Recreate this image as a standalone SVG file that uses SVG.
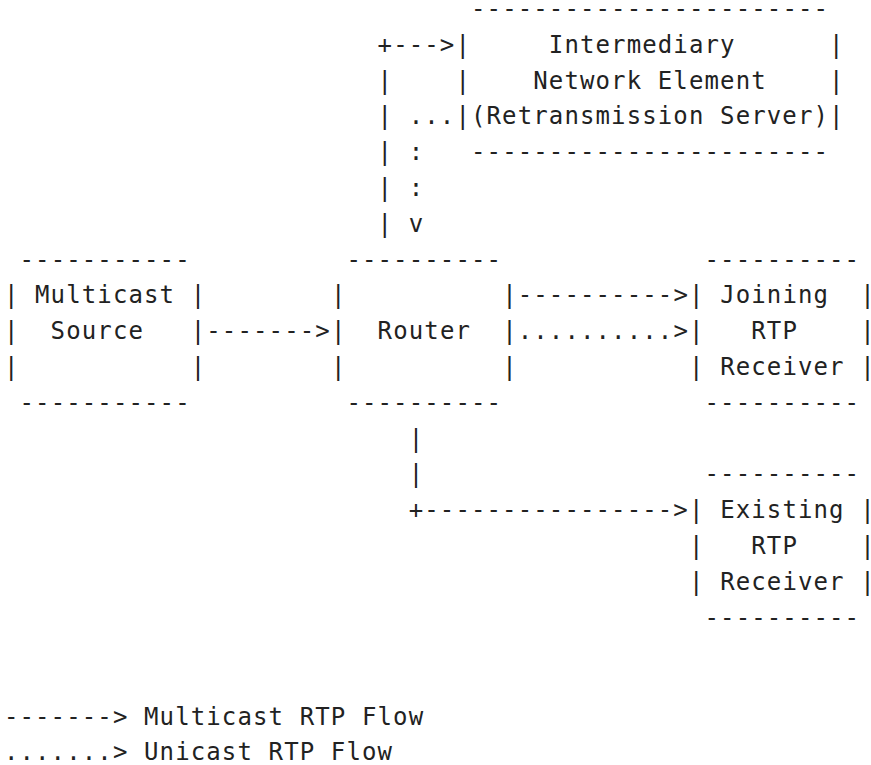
<svg xmlns="http://www.w3.org/2000/svg" width="871" height="765" viewBox="0 0 871 765">
<style>
text{font-family:"DejaVu Sans Mono","Liberation Mono",monospace;font-size:24px;letter-spacing:1.12px;fill:#222;white-space:pre}
</style>
<rect width="871" height="765" fill="#fff"/>
<g id="intermediary" xml:space="preserve">
<text x="471" y="17">-----------------------</text>
<text x="455.4" y="52.8">|     Intermediary      |</text>
<text x="455.4" y="88.6">|    Network Element    |</text>
<text x="455.4" y="124.4">|(Retransmission Server)|</text>
<text x="471" y="160.2">-----------------------</text>
</g>
<g id="multicast-source" xml:space="preserve">
<text x="19.5" y="267.6">-----------</text>
<text x="3.9" y="303.4">| Multicast |</text>
<text x="3.9" y="339.2">|  Source   |</text>
<text x="3.9" y="375">|           |</text>
<text x="19.5" y="410.8">-----------</text>
</g>
<g id="router" xml:space="preserve">
<text x="346.4" y="267.6">----------</text>
<text x="330.9" y="303.4">|          |</text>
<text x="330.9" y="339.2">|  Router  |</text>
<text x="330.9" y="375">|          |</text>
<text x="346.4" y="410.8">----------</text>
</g>
<g id="joining-receiver" xml:space="preserve">
<text x="704.5" y="267.6">----------</text>
<text x="689" y="303.4">| Joining  |</text>
<text x="689" y="339.2">|   RTP    |</text>
<text x="689" y="375">| Receiver |</text>
<text x="704.5" y="410.8">----------</text>
</g>
<g id="existing-receiver" xml:space="preserve">
<text x="704.5" y="482.4">----------</text>
<text x="689" y="518.2">| Existing |</text>
<text x="689" y="554">|   RTP    |</text>
<text x="689" y="589.8">| Receiver |</text>
<text x="704.5" y="625.6">----------</text>
</g>
<g id="connectors" xml:space="preserve">
<text x="377.6" y="52.8">+---&gt;</text>
<text x="377.6" y="88.6">|</text>
<text x="377.6" y="124.4">| ...</text>
<text x="377.6" y="160.2">| :</text>
<text x="377.6" y="196">| :</text>
<text x="377.6" y="231.8">| v</text>
<text x="206.3" y="339.2">-------&gt;</text>
<text x="517.7" y="303.4">----------&gt;</text>
<text x="517.7" y="339.2">..........&gt;</text>
<text x="408.7" y="446.6">|</text>
<text x="408.7" y="482.4">|</text>
<text x="408.7" y="518.2">+----------------&gt;</text>
</g>
<g id="legend" xml:space="preserve">
<text x="3.9" y="725">-------&gt; Multicast RTP Flow</text>
<text x="3.9" y="760">.......&gt; Unicast RTP Flow</text>
</g>
</svg>
